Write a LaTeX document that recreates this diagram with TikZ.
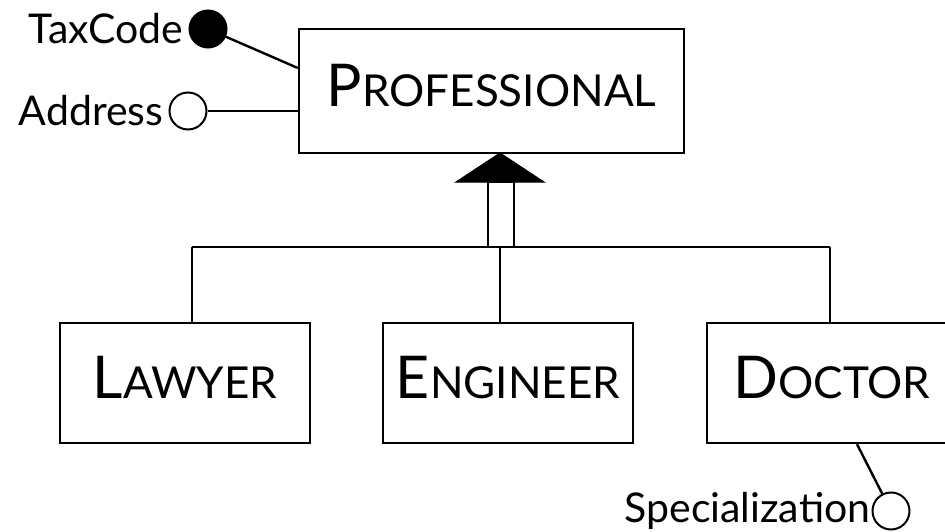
\documentclass[tikz,border=0pt]{standalone}
\usepackage{fontspec}
\setmainfont{Lato}
\usepackage{tikz}

\newcommand{\capsc}[2]{{\fontsize{59}{59}\selectfont #1}{\fontsize{44}{44}\selectfont #2}}

\begin{document}
\begin{tikzpicture}
[x=1pt,y=-1pt,line width=2.4pt,every node/.style={inner sep=0pt},
 entity/.style={draw,rectangle,minimum height=120pt,text depth=12pt},
 attr/.style={draw,circle,minimum size=37pt,line width=2pt},
 lbl/.style={font=\fontsize{41}{41}\selectfont}]
\useasboundingbox (0,0) rectangle (945,532);

\node[entity,minimum width=385pt,minimum height=124pt] (prof) at (491.5,91) {\capsc{P}{ROFESSIONAL}};
\node[entity,minimum width=250pt] (lawyer) at (185,383) {\capsc{L}{AWYER}};
\node[entity,minimum width=250pt] (eng) at (508,383) {\capsc{E}{NGINEER}};
\node[entity,minimum width=250pt] (doc) at (832,383) {\capsc{D}{OCTOR}};

\node[attr,fill=black] (tax) at (208,29) {};
\node[attr] (addr) at (188,111) {};
\node[attr] (spec) at (891,511) {};
\node[lbl,anchor=east] (taxl) at ([xshift=-4pt]tax.west) {TaxCode};
\node[lbl,anchor=east] (addrl) at ([xshift=-4pt]addr.west) {Address};
\node[lbl,anchor=east] (specl) at (spec.west) {Specialization};

\draw (tax) -- (prof.west |- 0,68);
\draw (addr) -- (prof.west |- addr);
\draw (doc.south -| 857,0) -- (spec);

% generalization
\coordinate (tip) at (500,153);
\coordinate (bus) at (500,247);
\coordinate (bl) at (192,247);
\coordinate (br) at (830,247);
\draw (bl) -- (br);
\foreach \to/\x in {lawyer/192,eng/500,doc/830}
\draw (\x,247) -- (\to.north -| \x,0);
\draw[fill=white] (488,182) rectangle (514,247);
\filldraw[line width=1pt] (tip) -- (544,182) -- (456,182) -- cycle;
\end{tikzpicture}
\end{document}
